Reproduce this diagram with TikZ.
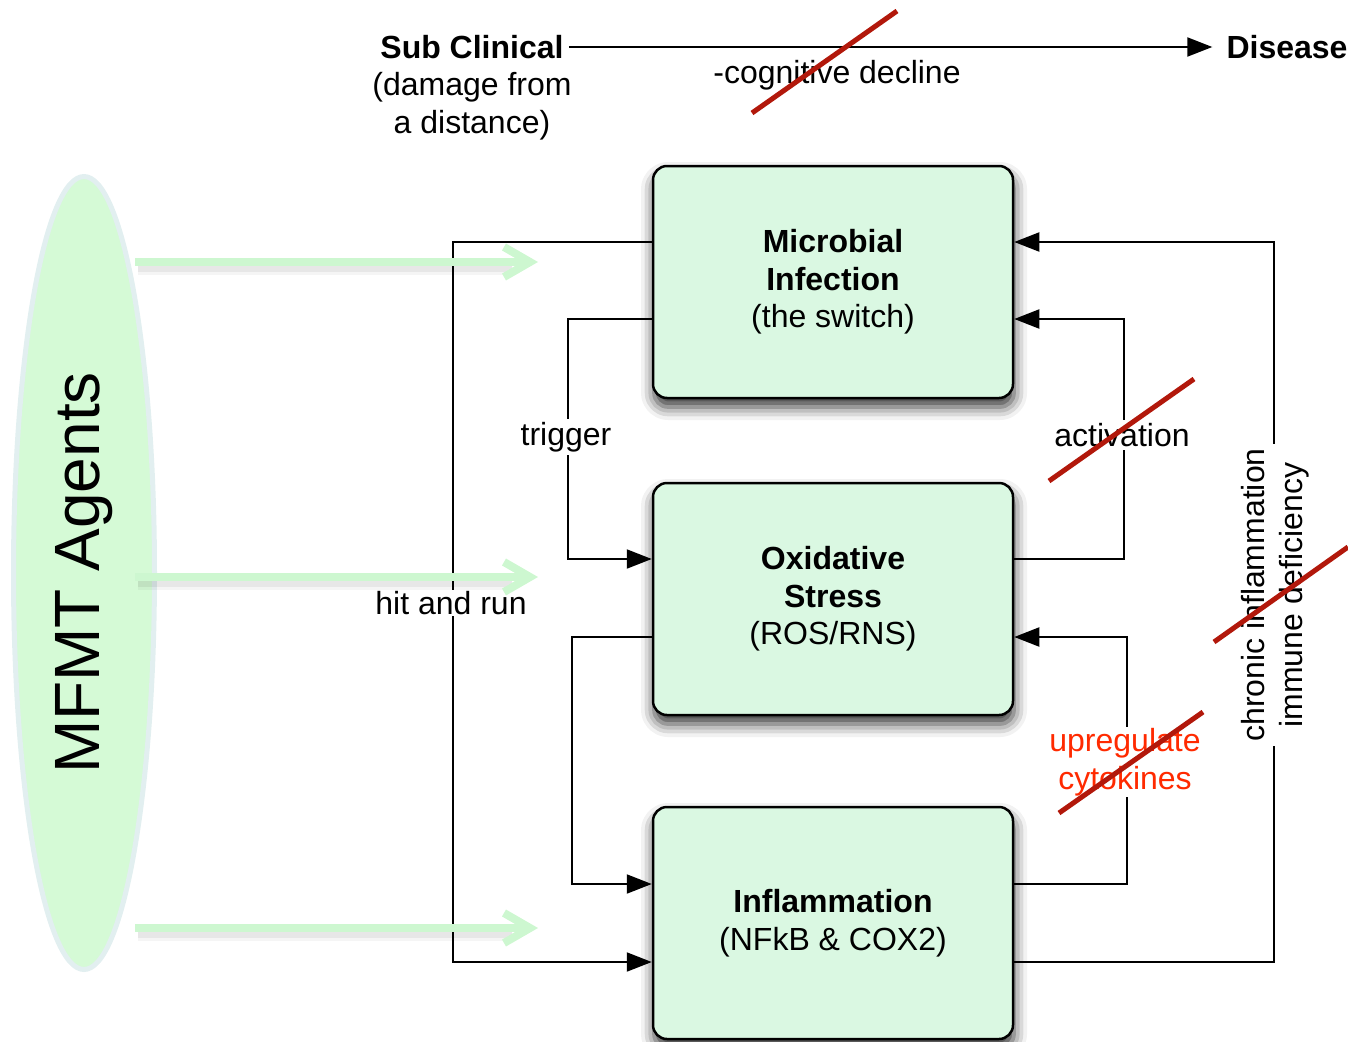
\documentclass[tikz,border=0pt]{standalone}
\usepackage{fontspec}
\setmainfont{Liberation Sans}
\usetikzlibrary{arrows.meta,shapes.geometric,shadows.blur}
\definecolor{boxfill}{HTML}{DAF8E2}
\definecolor{ellfill}{HTML}{D5FAD6}
\definecolor{elldraw}{HTML}{E2EFF0}
\definecolor{garrowc}{HTML}{CDF7D0}
\definecolor{redtext}{HTML}{FF2A00}
\definecolor{strikered}{HTML}{B2180B}
\begin{document}
\begin{tikzpicture}[x=1pt,y=-1pt,
  every node/.style={font=\fontsize{32}{37.5}\selectfont},
  box/.style={draw=black, line width=2.5pt, fill=boxfill, rounded corners=14pt,
    minimum width=360pt, minimum height=232pt, align=center,
    blur shadow={shadow xshift=1pt, shadow yshift=-9pt, shadow blur radius=13pt, shadow opacity=80}},
  conn/.style={line width=2pt, draw=black},
  tip/.style={-{Triangle[length=25pt,width=19pt]}},
  lab/.style={fill=white, inner sep=3pt, align=center},
  strike/.style={draw=strikered, line width=5pt},
  garrow/.style={draw=garrowc, line width=8pt, -{Straight Barb[length=26pt,width=30pt]}},
  gshadowA/.style={draw=black, opacity=0.04, line width=14pt},
  gshadowB/.style={draw=black, opacity=0.06, line width=7pt}
]
\useasboundingbox (0,0) rectangle (1348,1041);

% MFMT Agents ellipse
\node[ellipse, rotate=90, minimum width=793pt, minimum height=141pt, inner sep=0pt,
      fill=ellfill, draw=elldraw, line width=5pt, font=\fontsize{64}{70}\selectfont]
      (agents) at (84,573) {MFMT Agents};

% top line
\node[font=\bfseries\fontsize{32}{37.5}\selectfont, inner sep=5pt] (sub) at (472,47) {Sub Clinical};
\node[align=center] (subnote) at (472,106) {(damage from\\a distance)};
\node[font=\bfseries\fontsize{32}{37.5}\selectfont, inner sep=14pt] (dis) at (1287,47) {Disease};
\draw[conn,tip] (sub.east) -- (dis.west);
\node (cog) at (837,75) {-cognitive decline};

% boxes
\node[box] (m1) at (833,282) {\textbf{Microbial}\\\textbf{Infection}\\(the switch)};
\node[box] (m2) at (833,599) {\textbf{Oxidative}\\\textbf{Stress}\\(ROS/RNS)};
\node[box] (m3) at (833,923) {\textbf{Inflammation}\\(NFkB \& COX2)};

% rails
\coordinate (yA) at (0,242);
\coordinate (yB) at (0,319);
\coordinate (yC) at (0,559);
\coordinate (yD) at (0,637);
\coordinate (yE) at (0,884);
\coordinate (yF) at (0,962);

% connectors
\draw[conn,tip] (m1.west |- yA) -- (453,242) -- (453,962) -- (m3.west |- yF);
\draw[conn,tip] (m1.west |- yB) -- (568,319) -- (568,559) -- (m2.west |- yC);
\draw[conn,tip] (m2.west |- yD) -- (572,637) -- (572,884) -- (m3.west |- yE);
\draw[conn,tip] (m2.east |- yC) -- (1124,559) -- (1124,319) -- (m1.east |- yB);
\draw[conn,tip] (m3.east |- yE) -- (1127,884) -- (1127,637) -- (m2.east |- yD);
\draw[conn,tip] (m3.east |- yF) -- (1274,962) -- (1274,242) -- (m1.east |- yA);

% labels
\node[lab] (ltrig) at (566,437) {trigger};
\node[lab] (lact) at (1122,435) {activation};
\node[lab, inner sep=1pt] (lhit) at (451,603) {hit and run};
\node[lab, text=redtext, inner sep=1pt] (lup) at (1125,762) {upregulate\\cytokines};
\node[lab, rotate=90, inner sep=4pt] (lchr) at (1275,595) {chronic inflammation\\immune deficiency};

% green arrows
\coordinate (g1s) at (135,262); \coordinate (g1e) at (538,262);
\coordinate (g2s) at (135,577); \coordinate (g2e) at (538,577);
\coordinate (g3s) at (135,928); \coordinate (g3e) at (538,928);
\foreach \s/\e in {g1s/g1e, g2s/g2e, g3s/g3e}{
  \draw[gshadowA] ([shift={(3,6)}]\s) -- ([shift={(-26,6)}]\e);
  \draw[gshadowB] ([shift={(3,6)}]\s) -- ([shift={(-26,6)}]\e);
  \draw[garrow] (\s) -- (\e);
}

% strike-throughs
\draw[strike] (752,113) -- (897,11);
\draw[strike] (1049,481) -- (1194,379);
\draw[strike] (1214,642) -- (1348,547);
\draw[strike] (1059,813) -- (1203,712);
\end{tikzpicture}
\end{document}
